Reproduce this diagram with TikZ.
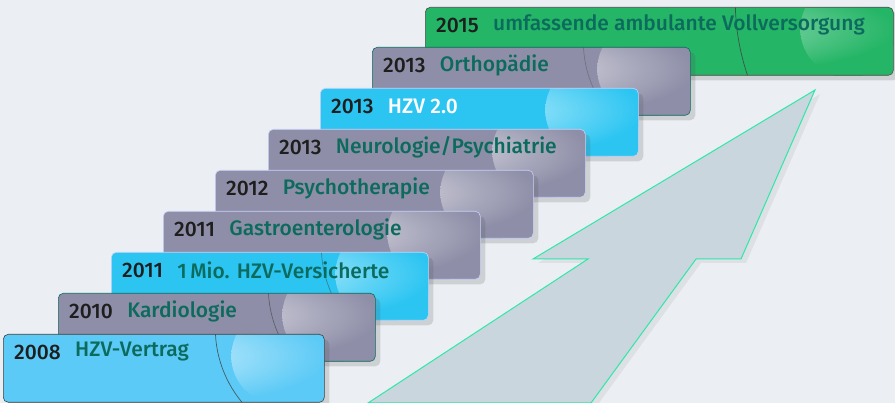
\documentclass[tikz,border=0pt]{standalone}
\usepackage{fontspec}
\setmainfont{Fira Sans}[UprightFont=* Medium]
\usetikzlibrary{shadows}
\definecolor{bgc}{HTML}{EBEFF3}
\definecolor{grayb}{HTML}{8E8EA8}
\definecolor{blueb}{HTML}{2CC5F2}
\definecolor{lblueb}{HTML}{5CCAF6}
\definecolor{greenb}{HTML}{24B566}
\definecolor{titlec}{HTML}{0C6B5C}
\definecolor{yearc}{HTML}{1E1E1E}
\definecolor{arrowf}{HTML}{C9D6DE}
\definecolor{arrowd}{HTML}{2EE8A8}
\definecolor{lightedge}{HTML}{C8D2FA}
\newcommand\evbox[9]{%
  \node[evbox={#5}{#6}{#7}{#8}{#9}, minimum width=#4] (#1) at (#2,#3) {};
}
\newcommand\evlabel[4][titlec]{%
  \node[evtext, text=yearc] (#2y) at ([xshift=11pt,yshift=-18pt]#2.north west) {#3};
  \node[evtext, text=#1] (#2t) at ([xshift=14pt]#2y.east) {#4};
}
\begin{document}
\begin{tikzpicture}[x=1pt,y=-1pt,
  evbox/.style n args={5}{rectangle, rounded corners=5pt, anchor=north west,
    inner sep=0pt, minimum height=68pt, fill=#1, draw=#2, line width=0.6pt,
    drop shadow={shadow xshift=5pt,shadow yshift=-5pt,opacity=0.18,fill=black!70},
    path picture={
      \shade[inner color=#1!35!white, outer color=#1]
        ([xshift=-45pt,yshift=-22pt]path picture bounding box.north east) circle (48pt);
      \draw[black!75, line width=0.7pt, opacity=#5]
        ([xshift=#3pt,yshift=6pt]path picture bounding box.north east) circle (#4pt);
    }},
  evtext/.style={anchor=west, inner sep=0pt, font=\fontsize{21}{23}\selectfont},
  arrowpoly/.style={fill=arrowf, draw=arrowd, line width=1pt, line join=miter}
]
\useasboundingbox (0,0) rectangle (895,403);
\fill[bgc] (0,0) rectangle (895,403);

% arrow
\coordinate (atip) at (815,90);
\coordinate (arn) at (741,259);
\coordinate (ari) at (696,259);
\coordinate (abr) at (591,403);
\coordinate (abl) at (368,403);
\coordinate (ali) at (588,259);
\coordinate (aln) at (533,259);
\fill[black,opacity=0.06] ([shift={(5,4)}]atip) -- ([shift={(5,4)}]arn) -- ([shift={(5,4)}]ari) -- ([shift={(5,4)}]abr) -- ([shift={(5,4)}]abl) -- ([shift={(5,4)}]ali) -- ([shift={(5,4)}]aln) -- cycle;
\draw[arrowpoly] (atip) -- (arn) -- (ari) -- (abr) -- (abl) -- (ali) -- (aln) -- cycle;

% boxes, back to front
\evbox{b1}{425}{7}{468pt}{greenb}{black!70}{71}{229}{0.8}
\evlabel{b1}{2015}{umfassende ambulante Vollversorgung}
\evbox{b2}{372}{47}{318pt}{grayb}{titlec}{7}{114}{0.35}
\evlabel{b2}{2013}{Orthopädie}
\evbox{b3}{320}{88}{318pt}{blueb}{lightedge}{7}{114}{0}
\evlabel[white]{b3}{2013}{HZV 2.0}
\evbox{b4}{268}{129}{317pt}{grayb}{lightedge}{7}{114}{0}
\evlabel{b4}{2013}{Neurologie/Psychiatrie}
\evbox{b5}{215}{170}{318pt}{grayb}{lightedge}{7}{114}{0}
\evlabel{b5}{2012}{Psychotherapie}
\evbox{b6}{163}{211}{317pt}{grayb}{lightedge}{7}{114}{0}
\evlabel{b6}{2011}{Gastroenterologie}
\evbox{b7}{111}{252}{317pt}{blueb}{lightedge}{7}{114}{0.5}
\evlabel{b7}{2011}{1\,Mio. HZV-Versicherte}
\evbox{b8}{58}{293}{317pt}{grayb}{titlec}{7}{114}{0.6}
\evlabel{b8}{2010}{Kardiologie}
\evbox{b9}{3}{334}{321pt}{lblueb}{black!75}{7}{116}{0.8}
\evlabel{b9}{2008}{HZV-Vertrag}
\end{tikzpicture}
\end{document}
